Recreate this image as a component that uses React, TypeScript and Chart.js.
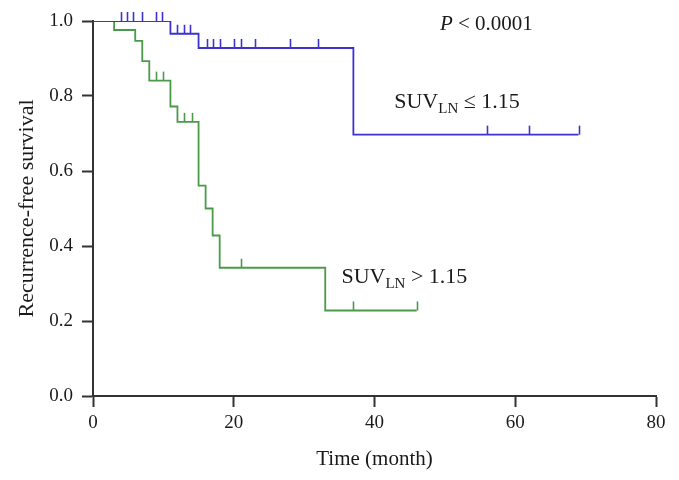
import React, { useEffect, useRef } from "react";
import { Chart, registerables } from "chart.js";

Chart.register(...registerables);

// ---- Data ----
const xTicks = [0, 20, 40, 60, 80];
const yTicks = [0, 0.2, 0.4, 0.6, 0.8, 1.0];

// SUV_LN <= 1.15 (blue)
const lowTimes = [0, 11, 15, 37, 69];
const lowSurv = [1.0, 0.966, 0.928, 0.697, 0.697];
const lowCensor = [4, 4.8, 5.7, 7, 9, 9.8, 12, 12.9, 13.8, 16.2, 17.1, 18.1, 20, 21, 23, 28, 32, 56, 62, 69];

// SUV_LN > 1.15 (green)
const highTimes = [0, 3, 6, 7, 8, 11, 12, 15, 16, 17, 18, 33, 46];
const highSurv = [1.0, 0.976, 0.947, 0.893, 0.841, 0.772, 0.731, 0.561, 0.5, 0.428, 0.342, 0.228, 0.228];
const highCensor = [8.9, 9.9, 13, 14, 21, 37, 46];

const BLUE = "#3d33cc";
const GREEN = "#4a9a4a";
const AXIS = "#333333";
const TEXT = "#1a1a1a";
const FONT = "'Liberation Serif', 'Times New Roman', serif";

function survAt(times: number[], surv: number[], t: number) {
  let s = surv[0];
  for (let i = 0; i < times.length; i++) {
    if (times[i] <= t) s = surv[i];
  }
  return s;
}

const censorPlugin = {
  id: "censorTicks",
  afterDatasetsDraw(chart: any) {
    const xs = chart.scales.x;
    const ys = chart.scales.y;
    const ctx = chart.ctx;
    const groups = [
      { times: highTimes, surv: highSurv, cens: highCensor, color: GREEN },
      { times: lowTimes, surv: lowSurv, cens: lowCensor, color: BLUE },
    ];
    ctx.save();
    ctx.lineWidth = 1.6;
    for (const g of groups) {
      ctx.strokeStyle = g.color;
      for (const t of g.cens) {
        const x = Math.round(xs.getPixelForValue(t)) + 0.5;
        const y = ys.getPixelForValue(survAt(g.times, g.surv, t));
        ctx.beginPath();
        ctx.moveTo(x, y);
        ctx.lineTo(x, y - 9);
        ctx.stroke();
      }
    }
    ctx.restore();
  },
};

const labelPlugin = {
  id: "kmLabels",
  afterDraw(chart: any) {
    const xs = chart.scales.x;
    const ys = chart.scales.y;
    const ctx = chart.ctx;
    ctx.save();
    ctx.fillStyle = TEXT;
    ctx.textBaseline = "alphabetic";
    ctx.textAlign = "left";

    // P value
    let x = xs.getPixelForValue(49.3);
    let y = ys.getPixelForValue(0.976);
    ctx.font = `italic 21px ${FONT}`;
    ctx.fillText("P", x, y);
    x += ctx.measureText("P").width;
    ctx.font = `21px ${FONT}`;
    ctx.fillText(" < 0.0001", x, y);

    const drawSuv = (mx: number, sy: number, rest: string) => {
      let px = xs.getPixelForValue(mx);
      const py = ys.getPixelForValue(sy);
      ctx.font = `22px ${FONT}`;
      ctx.fillText("SUV", px, py);
      px += ctx.measureText("SUV").width;
      ctx.font = `15px ${FONT}`;
      ctx.fillText("LN", px, py + 5);
      px += ctx.measureText("LN").width;
      ctx.font = `22px ${FONT}`;
      ctx.fillText(rest, px, py);
    };
    drawSuv(42.8, 0.767, " \u2264 1.15");
    drawSuv(35.3, 0.301, " > 1.15");
    ctx.restore();
  },
};

export default function App() {
  const ref = useRef<HTMLCanvasElement | null>(null);

  useEffect(() => {
    if (!ref.current) return;
    const chart = new Chart(ref.current, {
      type: "line",
      data: {
        datasets: [
          {
            label: "SUVLN <= 1.15",
            data: lowTimes.map((t, i) => ({ x: t, y: lowSurv[i] })),
            borderColor: BLUE,
            borderWidth: 1.8,
            stepped: "before",
            pointRadius: 0,
            fill: false,
          },
          {
            label: "SUVLN > 1.15",
            data: highTimes.map((t, i) => ({ x: t, y: highSurv[i] })),
            borderColor: GREEN,
            borderWidth: 1.8,
            stepped: "before",
            pointRadius: 0,
            fill: false,
          },
        ],
      },
      options: {
        animation: false,
        responsive: false,
        layout: { padding: { top: 21, right: 23, bottom: 0, left: 0 } },
        plugins: {
          legend: { display: false },
          tooltip: { enabled: false },
        },
        scales: {
          x: {
            type: "linear",
            min: 0,
            max: 80,
            afterBuildTicks: (s: any) => {
              s.ticks = xTicks.map((v) => ({ value: v }));
            },
            afterFit: (s: any) => {
              s.height = 84;
            },
            ticks: {
              font: { family: FONT, size: 19 },
              color: TEXT,
              padding: 5,
              maxRotation: 0,
              autoSkip: false,
            },
            grid: {
              display: true,
              drawOnChartArea: false,
              drawTicks: true,
              tickLength: 11,
              tickColor: AXIS,
              tickWidth: 2,
            },
            border: { display: true, color: AXIS, width: 2 },
            title: {
              display: true,
              text: "Time (month)",
              font: { family: FONT, size: 21 },
              color: TEXT,
              padding: { top: 0, bottom: 8 },
            },
          },
          y: {
            type: "linear",
            min: 0,
            max: 1,
            afterBuildTicks: (s: any) => {
              s.ticks = yTicks.map((v) => ({ value: v }));
            },
            afterFit: (s: any) => {
              s.width = 93;
            },
            ticks: {
              font: { family: FONT, size: 19 },
              color: TEXT,
              padding: 9,
              autoSkip: false,
              callback: (v: any) => Number(v).toFixed(1),
            },
            grid: {
              display: true,
              drawOnChartArea: false,
              drawTicks: true,
              tickLength: 11,
              tickColor: AXIS,
              tickWidth: 2,
            },
            border: { display: true, color: AXIS, width: 2 },
            title: {
              display: true,
              text: "Recurrence-free survival",
              font: { family: FONT, size: 22 },
              color: TEXT,
              padding: { top: 14, bottom: 0 },
            },
          },
        },
      },
      plugins: [censorPlugin, labelPlugin],
    } as any);
    return () => chart.destroy();
  }, []);

  return (
    <div style={{ position: "absolute", left: 0, top: 0, width: 679, height: 480, background: "#fff" }}>
      <canvas ref={ref} width={679} height={480} style={{ display: "block" }} />
    </div>
  );
}
